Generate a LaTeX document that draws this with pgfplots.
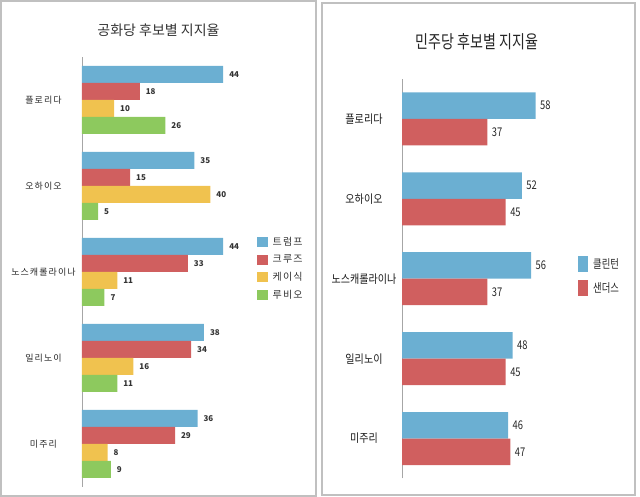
\documentclass[border=0pt]{standalone}
\usepackage{pgfplots}
\pgfplotsset{compat=1.18}
\usepackage{fontspec}
\setmainfont{Noto Sans CJK KR}
\newfontfamily\narrowfont[FakeStretch=0.78]{Noto Sans CJK KR}
\newfontfamily\ticknarrow[FakeStretch=0.86]{Noto Sans CJK KR}
\newfontfamily\spacedfont[LetterSpace=12]{Noto Sans CJK KR}
\definecolor{cblue}{HTML}{6BAFD2}
\definecolor{cred}{HTML}{D05F5F}
\definecolor{cyellow}{HTML}{F0C24F}
\definecolor{cgreen}{HTML}{8DC95E}
\definecolor{axgray}{HTML}{A6A6A6}
\definecolor{framegray}{HTML}{C0C0C0}
\pgfplotsset{
  panel/.style={scale only axis, xbar, axis x line=none, axis y line*=left,
    axis line style={draw=axgray, line width=0.8pt},
    xmin=0, ymin=-0.5, ymax=4.5, ytick={0,...,4},
    major tick length=0pt, ytick style={draw=none},
    nodes near coords, clip=false,
    /pgf/number format/assume math mode=true,
    legend cell align=left},
  sqL/.style={legend image code/.code={\fill[##1] (0pt,-5pt) rectangle (11pt,5pt);}},
  sqR/.style={legend image code/.code={\fill[##1] (0pt,-8pt) rectangle (10pt,8pt);}},
}
\begin{document}
\begin{tikzpicture}
\useasboundingbox (0,0) rectangle (640pt,497pt);
\draw[framegray, line width=1.2pt] (1pt,1pt) rectangle (316pt,496pt);
\draw[framegray, line width=1.2pt] (322pt,2pt) rectangle (635pt,494pt);
\node[font=\fontsize{14}{16}\selectfont, text=black!80] at (158.5pt,467pt) {공화당 후보별 지지율};
\node[font=\narrowfont\fontsize{18}{20}\selectfont, text=black!85] at (477pt,455pt) {민주당 후보별 지지율};

% Left panel
\begin{axis}[panel,
  at={(82pt,440pt)}, anchor=north west,
  width=176.55pt, height=430pt, xmax=55,
  bar width=17pt,
  yticklabels={미주리,일리노이,노스캐롤라이나,오하이오,플로리다},
  yticklabel style={anchor=center, xshift=-38.5pt, font=\spacedfont\fontsize{9}{11}\selectfont, text=black!85},
  every node near coord/.append style={font=\bfseries\fontsize{8}{9}\selectfont, text=black!80, xshift=2.5pt},
  legend style={draw=none, fill=none, inner sep=0pt, at={(axis description cs:0.991,0.508)}, anchor=west,
    row sep=5pt, column sep=3pt, nodes={inner sep=1.5pt}, font=\spacedfont\fontsize{10}{12}\selectfont, text=black!80},
]
\addplot[fill=cblue, draw=none, bar shift=25.5pt, sqL] coordinates {(44,4) (35,3) (44,2) (38,1) (36,0)};
\addplot[fill=cred, draw=none, bar shift=8.5pt, sqL] coordinates {(18,4) (15,3) (33,2) (34,1) (29,0)};
\addplot[fill=cyellow, draw=none, bar shift=-8.5pt, sqL] coordinates {(10,4) (40,3) (11,2) (16,1) (8,0)};
\addplot[fill=cgreen, draw=none, bar shift=-25.5pt, sqL] coordinates {(26,4) (5,3) (7,2) (11,1) (9,0)};
\legend{트럼프,크루즈,케이식,루비오}
\end{axis}

% Right panel
\begin{axis}[panel,
  at={(402pt,418pt)}, anchor=north west,
  width=175.2pt, height=399.5pt, xmax=76,
  bar width=26.5pt,
  yticklabels={미주리,일리노이,노스캐롤라이나,오하이오,플로리다},
  yticklabel style={anchor=center, xshift=-38pt, font=\ticknarrow\fontsize{11.7}{13}\selectfont, text=black!90},
  every node near coord/.append style={font=\narrowfont\fontsize{12}{14}\selectfont, text=black!85, xshift=1pt},
  legend style={draw=none, fill=none, inner sep=0pt, at={(axis description cs:1.0046,0.507)}, anchor=west,
    row sep=8pt, column sep=3.5pt, nodes={inner sep=1.5pt}, font=\narrowfont\fontsize{12}{14}\selectfont, text=black!85},
]
\addplot[fill=cblue, draw=none, bar shift=13.25pt, sqR] coordinates {(58,4) (52,3) (56,2) (48,1) (46,0)};
\addplot[fill=cred, draw=none, bar shift=-13.25pt, sqR] coordinates {(37,4) (45,3) (37,2) (45,1) (47,0)};
\legend{클린턴,샌더스}
\end{axis}
\end{tikzpicture}
\end{document}
